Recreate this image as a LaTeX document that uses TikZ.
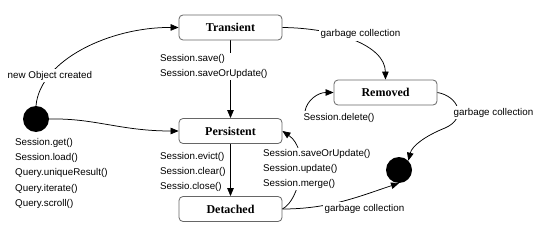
\documentclass[tikz,border=0pt]{standalone}
\usepackage{fontspec}
\setmainfont{Liberation Sans}
\newfontfamily\boxfont{Liberation Serif}
\usetikzlibrary{arrows.meta}
\pgfdeclarelayer{edges}
\pgfsetlayers{edges,main}
\begin{document}
\begin{tikzpicture}[x=1pt,y=-1pt,
  state/.style={draw=black!60, rounded corners=4pt, minimum width=103pt, minimum height=25pt,
    inner sep=0pt, line width=0.8pt, font=\boxfont\bfseries\fontsize{12}{14}\selectfont},
  lbl/.style={font=\fontsize{9.8}{11}\selectfont, inner sep=1.5pt, fill=white, anchor=base west},
  blk/.style={font=\fontsize{9.8}{15.4}\selectfont, inner sep=1pt, fill=white, align=left, anchor=north west},
  conn/.style={-{Triangle[length=8pt,width=6.5pt]}, line width=0.75pt},
  dot/.style={circle, fill=black, minimum size=26pt, inner sep=0pt}]
\useasboundingbox (0,0) rectangle (540,238);
\begin{pgfonlayer}{edges}
\fill[white] (0,0) rectangle (540,238);
\end{pgfonlayer}

% states
\node[state] (tr) at (230.5,27.5) {Transient};
\node[state] (rm) at (385.5,92.5) {Removed};
\node[state] (pe) at (230.5,131) {Persistent};
\node[state] (de) at (230.5,209) {Detached};
\node[dot] (start) at (36,119) {};
\node[dot] (end) at (399,170) {};

% labels
\node[lbl] (lnew) at (6,78) {new Object created};
\node[lbl] (lgc1) at (319,37) {garbage collection};
\node[lbl] (lgc2) at (452,115) {garbage collection};
\node[lbl] (lgc3) at (323,211) {garbage collection};
\node[lbl] (ldel) at (302,120) {Session.delete()};
\node[blk] (lsave) at (159,52.8) {Session.save()\\Session.saveOrUpdate()};
\node[blk] (lget) at (14,136.8) {Session.get()\\Session.load()\\Query.uniqueResult()\\Query.iterate()\\Query.scroll()};
\node[blk] (levict) at (159,150.8) {Session.evict()\\Session.clear()\\Sessio.close()};
\node[blk] (lupd) at (262,147.8) {Session.saveOrUpdate()\\Session.update()\\Session.merge()};

\begin{pgfonlayer}{edges}
\draw[conn] (start.north) .. controls (40,60) and (110,27) .. (tr.west);
\draw[conn] (start.east) .. controls (95,118) and (120,131) .. (pe.west);
\draw[conn] (tr.south) -- (pe.north);
\draw[conn] (tr.east) .. controls (335,28) and (385,45) .. (rm.north);
\draw[conn] (rm.east) .. controls (458,96) and (468,118) .. (445,128)
   .. controls (425,136) and (412,146) .. (end.north east);
\draw[conn] ([xshift=3pt]ldel.north west) .. controls (307,100) and (318,92.5) .. (rm.west);
\draw[conn] (pe.south) -- (de.north);
\draw[conn] (de.east) .. controls (300,200) and (310,150) .. (pe.east);
\draw[conn] (de.east) .. controls (330,209) and (360,196) .. (end.south);
\end{pgfonlayer}
\end{tikzpicture}
\end{document}
